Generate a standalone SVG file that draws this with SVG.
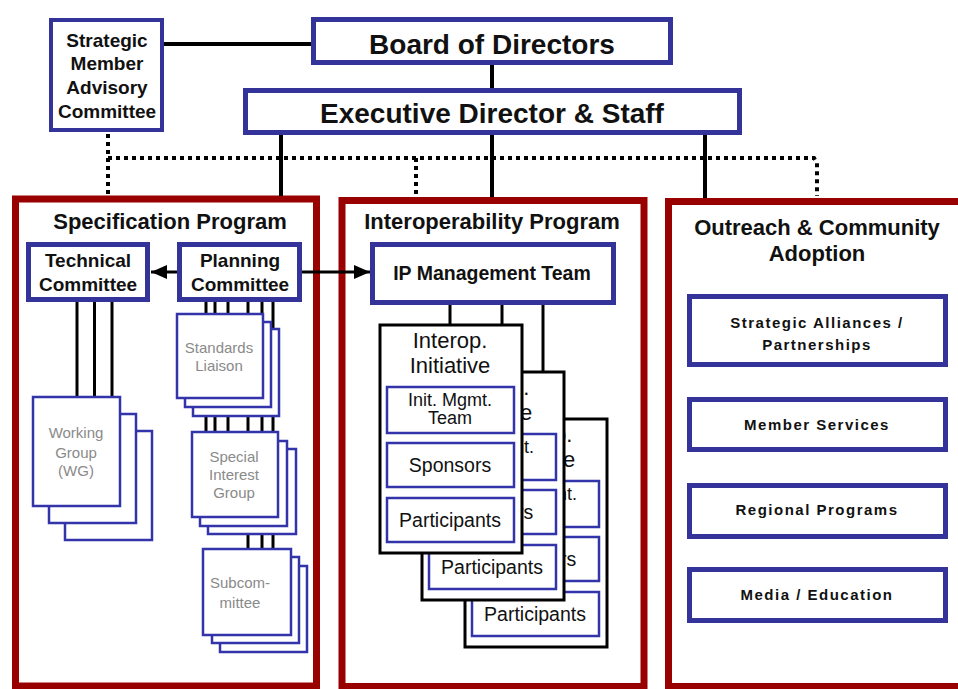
<svg xmlns="http://www.w3.org/2000/svg" width="958" height="689" viewBox="0 0 958 689">
<defs>
<style>
.bg{fill:#fff}
.prog{fill:#fff;stroke:#990000;stroke-width:7}
.hb{fill:#fff;stroke:#333399;stroke-width:5}
.mb{fill:#fff;stroke:#333399;stroke-width:4}
.tb{fill:#fff;stroke:#3333aa;stroke-width:2.5}
.card{fill:#fff;stroke:#000;stroke-width:3}
.ln{stroke:#000;stroke-width:4;fill:none}
.ln3{stroke:#000;stroke-width:3;fill:none}
.dot{stroke:#000;stroke-width:4;stroke-dasharray:4 4;fill:none}
text{font-family:"Liberation Sans",Arial,sans-serif;text-anchor:middle;fill:#111}
.big{font-size:28px;font-weight:bold}
.ttl{font-size:22px;font-weight:bold}
.hd{font-size:19px;font-weight:bold}
.ob{font-size:15px;font-weight:bold;letter-spacing:1.5px}
.ct{font-size:22px}
.it{font-size:19.5px}
.im{font-size:18px}
.gr{font-size:15px;fill:#8a8a8a}
</style>
<marker id="arr" markerUnits="userSpaceOnUse" markerWidth="16" markerHeight="14" refX="16" refY="7" orient="auto">
<path d="M0,0 L16,7 L0,14 z" fill="#000"/>
</marker>
</defs>
<rect class="bg" x="0" y="0" width="958" height="689"/>

<g id="spec-program">
<rect class="prog" x="15.5" y="199" width="301" height="487"/>
<text class="ttl" x="170" y="229">Specification Program</text>
</g>
<g id="interop-program">
<rect class="prog" x="342" y="200.5" width="302" height="486"/>
<text class="ttl" x="492" y="229">Interoperability Program</text>
</g>
<g id="outreach-program">
<rect class="prog" x="668.5" y="201.5" width="300" height="485"/>
<text class="ttl" x="817" y="235">Outreach &amp; Community</text>
<text class="ttl" x="817" y="261">Adoption</text>
</g>

<g id="connectors">
<line class="ln" x1="164" y1="44" x2="312" y2="44"/>
<line class="ln" x1="492" y1="64" x2="492" y2="89"/>
<line class="ln" x1="281" y1="134" x2="281" y2="196"/>
<line class="ln" x1="492" y1="134" x2="492" y2="197"/>
<line class="ln" x1="705" y1="134" x2="705" y2="198"/>
<path class="dot" d="M108,134 V196"/>
<path class="dot" d="M108,158 H814 L817,163 V196"/>
<path class="dot" d="M416,158 V197"/>
<line class="ln3" x1="178" y1="272" x2="151" y2="272" marker-end="url(#arr)"/>
<line class="ln3" x1="301" y1="272" x2="370" y2="272" marker-end="url(#arr)"/>
<line class="ln3" x1="77" y1="302" x2="77" y2="398"/>
<line class="ln3" x1="94.5" y1="302" x2="94.5" y2="398"/>
<line class="ln3" x1="112" y1="302" x2="112" y2="398"/>
<path class="ln3" d="M206,302 V330 M215,302 V330 M228,302 V330 M248,302 V330 M262,302 V330 M273,302 V330"/>
<path class="ln3" d="M206,398 V434 M215,398 V434 M228,398 V434 M248,398 V434 M262,398 V434 M273,398 V434"/>
<path class="ln3" d="M248,517 V551 M262,517 V551 M273,517 V551"/>
<line class="ln3" x1="450" y1="304" x2="450" y2="327"/>
<line class="ln3" x1="502" y1="304" x2="502" y2="327"/>
<line class="ln3" x1="543" y1="304" x2="543" y2="374"/>
</g>

<g id="smac">
<rect class="mb" x="51" y="20" width="111" height="110"/>
<text class="hd" x="107" y="47">Strategic</text>
<text class="hd" x="107" y="70">Member</text>
<text class="hd" x="107" y="94">Advisory</text>
<text class="hd" x="107" y="118">Committee</text>
</g>
<g id="board">
<rect class="hb" x="313.5" y="19.5" width="357" height="43"/>
<text class="big" x="492" y="54">Board of Directors</text>
</g>
<g id="exec">
<rect class="hb" x="245.5" y="90.5" width="494" height="42"/>
<text class="big" x="492" y="123">Executive Director &amp; Staff</text>
</g>

<g id="technical-committee">
<rect class="hb" x="28.5" y="244.5" width="119" height="55"/>
<text class="hd" x="88" y="267">Technical</text>
<text class="hd" x="88" y="291">Committee</text>
</g>
<g id="planning-committee">
<rect class="hb" x="179.5" y="244.5" width="120" height="55"/>
<text class="hd" x="240" y="267">Planning</text>
<text class="hd" x="240" y="291">Committee</text>
</g>

<g id="working-group">
<rect class="tb" x="65" y="431" width="87" height="109"/>
<rect class="tb" x="49" y="414" width="87" height="109"/>
<rect class="tb" x="33" y="397" width="87" height="109"/>
<text class="gr" x="76" y="438">Working</text>
<text class="gr" x="76" y="458">Group</text>
<text class="gr" x="76" y="476">(WG)</text>
</g>
<g id="standards-liaison">
<rect class="tb" x="193" y="329" width="86" height="87"/>
<rect class="tb" x="185" y="322" width="86" height="85"/>
<rect class="tb" x="177" y="314" width="86" height="84"/>
<text class="gr" x="219" y="353">Standards</text>
<text class="gr" x="219" y="371">Liaison</text>
</g>
<g id="special-interest-group">
<rect class="tb" x="208" y="449" width="88" height="85"/>
<rect class="tb" x="200" y="441" width="87" height="85"/>
<rect class="tb" x="192" y="432" width="86" height="85"/>
<text class="gr" x="234" y="462">Special</text>
<text class="gr" x="234" y="480">Interest</text>
<text class="gr" x="234" y="498">Group</text>
</g>
<g id="subcommittee">
<rect class="tb" x="220" y="566" width="87" height="86"/>
<rect class="tb" x="212" y="557" width="87" height="86"/>
<rect class="tb" x="203" y="549" width="88" height="86"/>
<text class="gr" x="240" y="588">Subcom-</text>
<text class="gr" x="240" y="608">mittee</text>
</g>

<g id="ip-management-team">
<rect class="hb" x="372.5" y="244.5" width="241" height="58"/>
<text class="hd" x="492" y="280" style="font-size:19.5px">IP Management Team</text>
</g>

<g id="interop-initiative-3">
<rect class="card" x="465" y="419" width="142" height="228"/>
<text class="ct" x="535" y="442">Interop.</text>
<text class="ct" x="535" y="467">Initiative</text>
<rect class="tb" x="472" y="481" width="127" height="46"/>
<text class="im" x="535" y="500">Init. Mgmt.</text>
<text class="im" x="535" y="518">Team</text>
<rect class="tb" x="472" y="537" width="127" height="44"/>
<text class="it" x="535" y="566">Sponsors</text>
<rect class="tb" x="472" y="592" width="127" height="44"/>
<text class="it" x="535" y="621">Participants</text>
</g>
<g id="interop-initiative-2">
<rect class="card" x="422" y="372" width="142" height="228"/>
<text class="ct" x="492" y="395">Interop.</text>
<text class="ct" x="492" y="420">Initiative</text>
<rect class="tb" x="429" y="434" width="127" height="46"/>
<text class="im" x="492" y="453">Init. Mgmt.</text>
<text class="im" x="492" y="471">Team</text>
<rect class="tb" x="429" y="490" width="127" height="44"/>
<text class="it" x="492" y="519">Sponsors</text>
<rect class="tb" x="429" y="545" width="127" height="44"/>
<text class="it" x="492" y="574">Participants</text>
</g>
<g id="interop-initiative-1">
<rect class="card" x="380" y="325" width="142" height="228"/>
<text class="ct" x="450" y="348">Interop.</text>
<text class="ct" x="450" y="373">Initiative</text>
<rect class="tb" x="387" y="387" width="127" height="46"/>
<text class="im" x="450" y="406">Init. Mgmt.</text>
<text class="im" x="450" y="424">Team</text>
<rect class="tb" x="387" y="443" width="127" height="44"/>
<text class="it" x="450" y="472">Sponsors</text>
<rect class="tb" x="387" y="498" width="127" height="44"/>
<text class="it" x="450" y="527">Participants</text>
</g>

<g id="strategic-alliances">
<rect class="hb" x="689.5" y="296.5" width="256" height="68"/>
<text class="ob" x="817" y="328">Strategic Alliances /</text>
<text class="ob" x="817" y="350">Partnerships</text>
</g>
<g id="member-services">
<rect class="hb" x="689.5" y="399.5" width="256" height="50"/>
<text class="ob" x="817" y="430">Member Services</text>
</g>
<g id="regional-programs">
<rect class="hb" x="689.5" y="485.5" width="256" height="51"/>
<text class="ob" x="817" y="515">Regional Programs</text>
</g>
<g id="media-education">
<rect class="hb" x="689.5" y="569.5" width="256" height="51"/>
<text class="ob" x="817" y="600">Media / Education</text>
</g>
</svg>
